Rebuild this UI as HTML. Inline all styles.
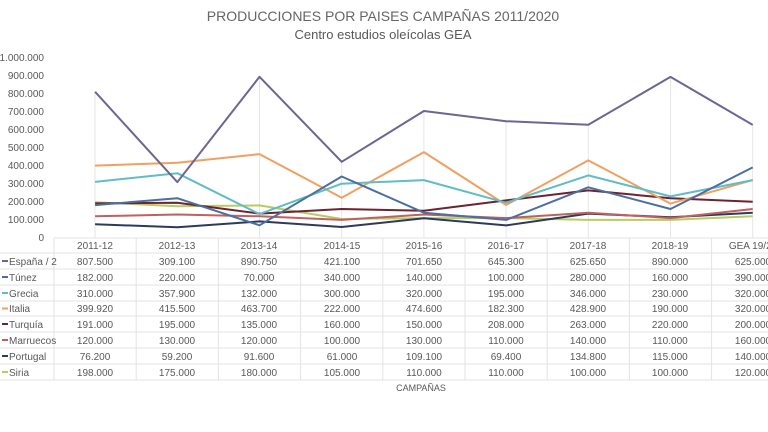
<!DOCTYPE html>
<html><head><meta charset="utf-8"><style>
body{margin:0;background:#fff;}
svg{display:block;font-family:"Liberation Sans",sans-serif;}
</style></head><body>
<svg width="768" height="432" viewBox="0 0 768 432" xmlns="http://www.w3.org/2000/svg">
<rect width="768" height="432" fill="#fff"/>
<text x="383" y="21" text-anchor="middle" font-size="14" fill="#666">PRODUCCIONES POR PAISES CAMPAÑAS 2011/2020</text>
<text x="383" y="39" text-anchor="middle" font-size="13" fill="#595959">Centro estudios oleícolas GEA</text>
<g font-size="10" fill="#595959" text-anchor="end">
<text x="44" y="61">1.000.000</text><text x="44" y="79">900.000</text><text x="44" y="97">800.000</text>
<text x="44" y="115">700.000</text><text x="44" y="133">600.000</text><text x="44" y="151">500.000</text>
<text x="44" y="169">400.000</text><text x="44" y="187">300.000</text><text x="44" y="205">200.000</text>
<text x="44" y="223">100.000</text><text x="44" y="241">0</text>
</g>
<g stroke="#e6e6e6" stroke-width="1">
<line x1="95" y1="92" x2="95" y2="238"/><line x1="259.5" y1="76" x2="259.5" y2="238"/>
<line x1="341.7" y1="160" x2="341.7" y2="238"/><line x1="423.9" y1="110" x2="423.9" y2="238"/>
<line x1="506.1" y1="120" x2="506.1" y2="238"/><line x1="588.3" y1="124" x2="588.3" y2="238"/>
<line x1="670.5" y1="76" x2="670.5" y2="238"/><line x1="752.7" y1="124" x2="752.7" y2="238"/>
</g>
<g fill="none" stroke-width="2" stroke-linejoin="round">
<polyline stroke="#b8cc60" points="95.1,202.2 177.3,206.3 259.5,205.4 341.7,219 423.9,218.1 506.1,218.1 588.3,219.9 670.5,219.9 752.7,216.3"/>
<polyline stroke="#2d3a5e" points="95.1,224.2 177.3,227.3 259.5,221.4 341.7,227 423.9,218.3 506.1,225.4 588.3,213.6 670.5,217.2 752.7,212.7"/>
<polyline stroke="#c06060" points="95.1,216.3 177.3,214.5 259.5,216.3 341.7,219.9 423.9,214.5 506.1,218.1 588.3,212.7 670.5,218.1 752.7,209"/>
<polyline stroke="#6b2430" points="95.1,203.4 177.3,202.7 259.5,213.6 341.7,209 423.9,210.8 506.1,200.4 588.3,190.4 670.5,198.2 752.7,201.8"/>
<polyline stroke="#f0a060" points="95.1,165.6 177.3,162.8 259.5,154.1 341.7,197.8 423.9,152.1 506.1,205 588.3,160.4 670.5,203.6 752.7,180.1"/>
<polyline stroke="#5fbdc6" points="95.1,181.9 177.3,173.2 259.5,214.1 341.7,183.7 423.9,180.1 506.1,202.7 588.3,175.4 670.5,196.4 752.7,180.1"/>
<polyline stroke="#4a6fa0" points="95.1,205.1 177.3,198.2 259.5,225.3 341.7,176.5 423.9,212.7 506.1,219.9 588.3,187.3 670.5,209 752.7,167.4"/>
<polyline stroke="#6e6592" points="95.1,91.8 177.3,182.1 259.5,76.8 341.7,161.8 423.9,111 506.1,121.2 588.3,124.8 670.5,76.9 752.7,124.9"/>
</g>
<g stroke="#e3e3e3" stroke-width="1">
<line x1="54" y1="238" x2="768" y2="238"/>
<line x1="0" y1="253" x2="768" y2="253"/><line x1="0" y1="269" x2="768" y2="269"/>
<line x1="0" y1="285" x2="768" y2="285"/><line x1="0" y1="301" x2="768" y2="301"/>
<line x1="0" y1="316" x2="768" y2="316"/><line x1="0" y1="332" x2="768" y2="332"/>
<line x1="0" y1="348" x2="768" y2="348"/><line x1="0" y1="364" x2="768" y2="364"/>
<line x1="0" y1="380" x2="768" y2="380"/>
<line x1="54" y1="238" x2="54" y2="380"/><line x1="136.2" y1="238" x2="136.2" y2="380"/>
<line x1="218.4" y1="238" x2="218.4" y2="380"/><line x1="300.6" y1="238" x2="300.6" y2="380"/>
<line x1="382.8" y1="238" x2="382.8" y2="380"/><line x1="465" y1="238" x2="465" y2="380"/>
<line x1="547.2" y1="238" x2="547.2" y2="380"/><line x1="629.4" y1="238" x2="629.4" y2="380"/>
<line x1="711.6" y1="238" x2="711.6" y2="380"/>
</g>
<g stroke-width="2">
<line x1="2" y1="261" x2="8" y2="261" stroke="#6e6592"/><line x1="2" y1="277" x2="8" y2="277" stroke="#4a6fa0"/>
<line x1="2" y1="293" x2="8" y2="293" stroke="#5fbdc6"/><line x1="2" y1="308.5" x2="8" y2="308.5" stroke="#f0a060"/>
<line x1="2" y1="324" x2="8" y2="324" stroke="#6b2430"/><line x1="2" y1="340" x2="8" y2="340" stroke="#c06060"/>
<line x1="2" y1="356" x2="8" y2="356" stroke="#2d3a5e"/><line x1="2" y1="372" x2="8" y2="372" stroke="#b8cc60"/>
</g>
<g font-size="10" fill="#595959">
<text x="9" y="265">España / 2</text><text x="9" y="281">Túnez</text><text x="9" y="297">Grecia</text>
<text x="9" y="312">Italia</text><text x="9" y="328">Turquía</text><text x="9" y="344">Marruecos</text>
<text x="9" y="360">Portugal</text><text x="9" y="376">Siria</text>
</g>
<g font-size="10" fill="#595959" text-anchor="middle">
<text x="95" y="249">2011-12</text><text x="177" y="249">2012-13</text><text x="259" y="249">2013-14</text>
<text x="342" y="249">2014-15</text><text x="424" y="249">2015-16</text><text x="506" y="249">2016-17</text>
<text x="588" y="249">2017-18</text><text x="670" y="249">2018-19</text><text x="753" y="249">GEA 19/20</text>
</g>
<g font-size="10" fill="#595959" text-anchor="middle">
<g transform="translate(95,0)"><text y="265">807.500</text><text y="281">182.000</text><text y="297">310.000</text><text y="312">399.920</text><text y="328">191.000</text><text y="344">120.000</text><text y="360">76.200</text><text y="376">198.000</text></g>
<g transform="translate(177,0)"><text y="265">309.100</text><text y="281">220.000</text><text y="297">357.900</text><text y="312">415.500</text><text y="328">195.000</text><text y="344">130.000</text><text y="360">59.200</text><text y="376">175.000</text></g>
<g transform="translate(259,0)"><text y="265">890.750</text><text y="281">70.000</text><text y="297">132.000</text><text y="312">463.700</text><text y="328">135.000</text><text y="344">120.000</text><text y="360">91.600</text><text y="376">180.000</text></g>
<g transform="translate(342,0)"><text y="265">421.100</text><text y="281">340.000</text><text y="297">300.000</text><text y="312">222.000</text><text y="328">160.000</text><text y="344">100.000</text><text y="360">61.000</text><text y="376">105.000</text></g>
<g transform="translate(424,0)"><text y="265">701.650</text><text y="281">140.000</text><text y="297">320.000</text><text y="312">474.600</text><text y="328">150.000</text><text y="344">130.000</text><text y="360">109.100</text><text y="376">110.000</text></g>
<g transform="translate(506,0)"><text y="265">645.300</text><text y="281">100.000</text><text y="297">195.000</text><text y="312">182.300</text><text y="328">208.000</text><text y="344">110.000</text><text y="360">69.400</text><text y="376">110.000</text></g>
<g transform="translate(588,0)"><text y="265">625.650</text><text y="281">280.000</text><text y="297">346.000</text><text y="312">428.900</text><text y="328">263.000</text><text y="344">140.000</text><text y="360">134.800</text><text y="376">100.000</text></g>
<g transform="translate(670,0)"><text y="265">890.000</text><text y="281">160.000</text><text y="297">230.000</text><text y="312">190.000</text><text y="328">220.000</text><text y="344">110.000</text><text y="360">115.000</text><text y="376">100.000</text></g>
<g transform="translate(753,0)"><text y="265">625.000</text><text y="281">390.000</text><text y="297">320.000</text><text y="312">320.000</text><text y="328">200.000</text><text y="344">160.000</text><text y="360">140.000</text><text y="376">120.000</text></g>
</g>
<text x="421" y="391" text-anchor="middle" font-size="9" fill="#595959">CAMPAÑAS</text>
</svg>
</body></html>
